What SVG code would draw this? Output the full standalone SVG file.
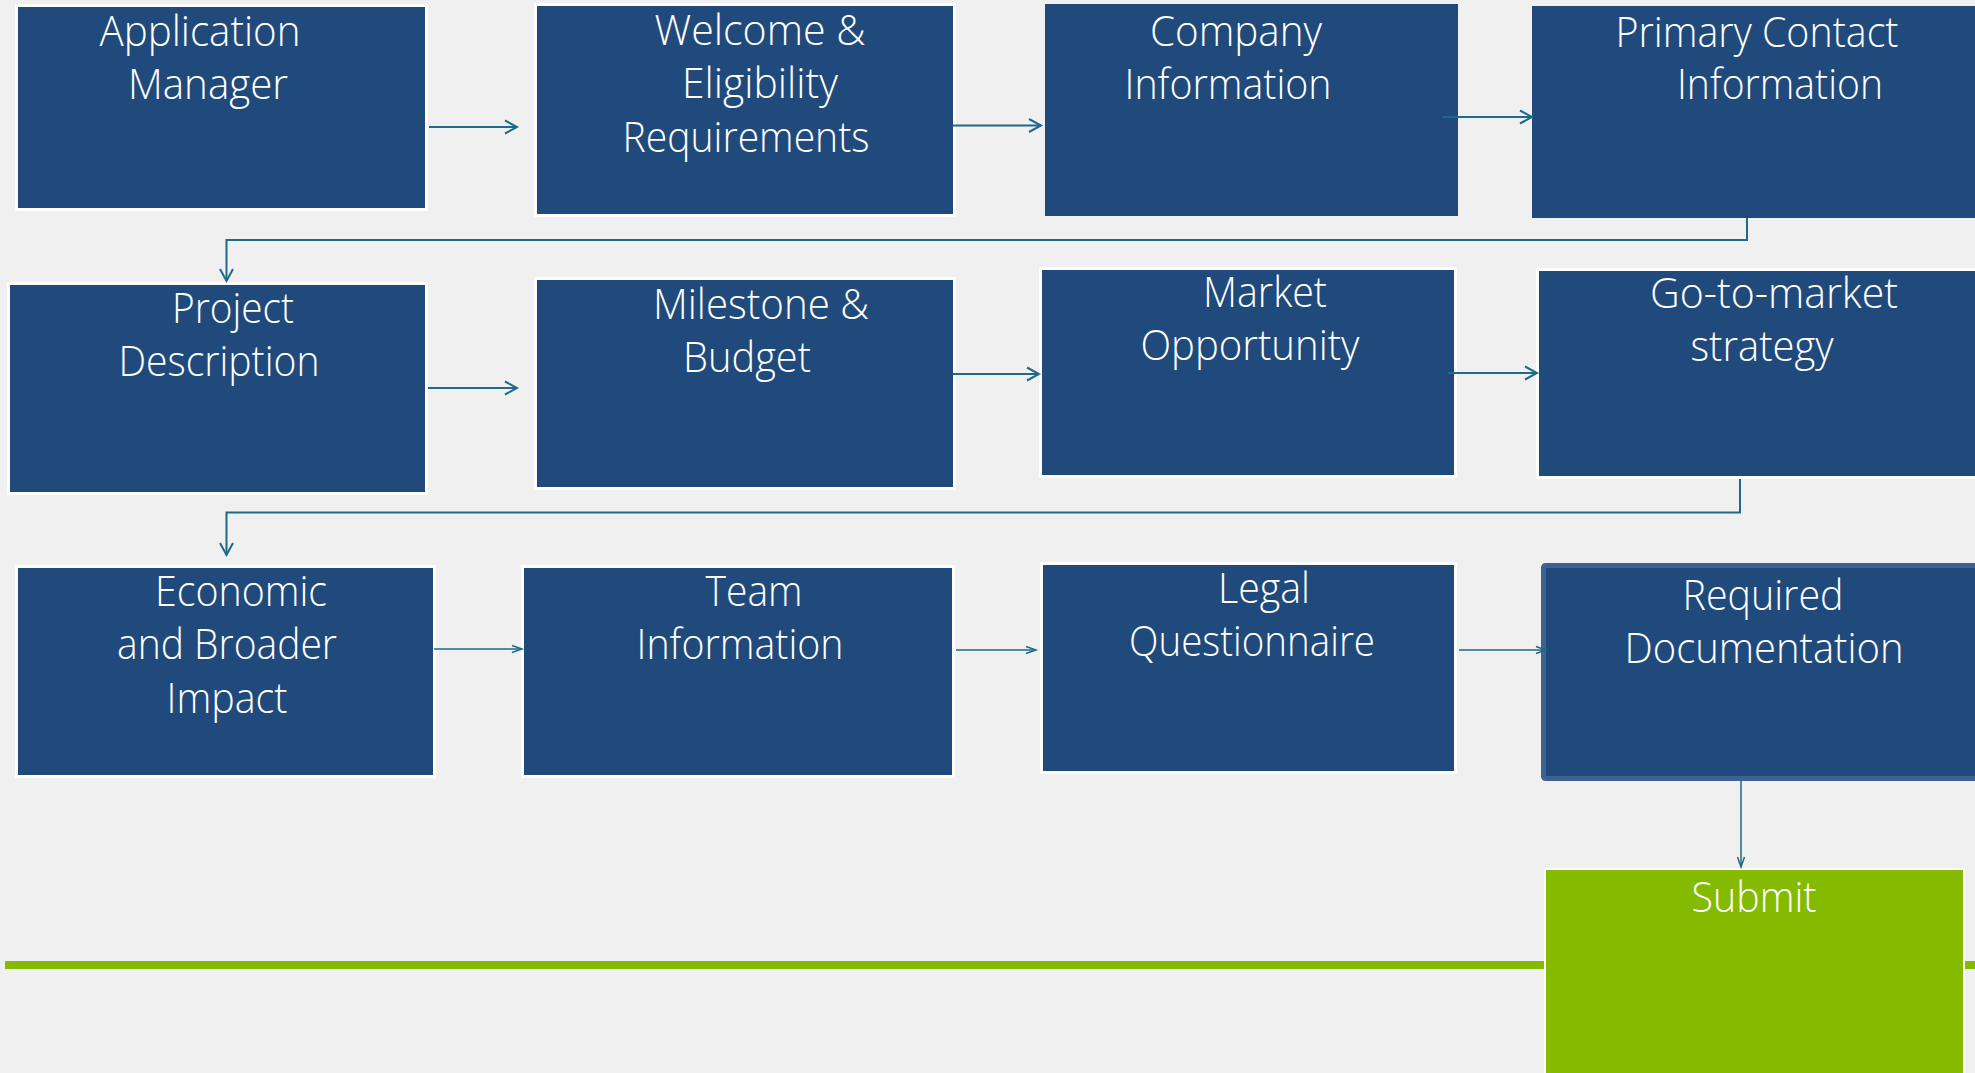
<svg xmlns="http://www.w3.org/2000/svg" width="1975" height="1073" viewBox="0 0 1975 1073">
<defs>
<style>
.bg{fill:#f0f0f0}
.box{fill:#214a7c;stroke:#ffffff;stroke-width:3}
.plain{fill:#214a7c}
.req{fill:#214a7c;stroke:#3d6291;stroke-width:5}
.sub{fill:#84bb00;stroke:#ffffff;stroke-width:2}
.t{font-family:"Open Sans","Segoe UI",Lato,"Liberation Sans",sans-serif;font-weight:300;font-size:42px;fill:#ffffff;text-anchor:middle}
.c{fill:none;stroke:#1f6a8a;stroke-width:2}
.cs{fill:none;stroke:#1f6a8a;stroke-width:1.5}
</style>
<marker id="ah" markerUnits="userSpaceOnUse" markerWidth="14" markerHeight="15" refX="12" refY="6.5" orient="auto" overflow="visible">
<path d="M0,0 L12,6.5 L0,13" fill="none" stroke="#1f6a8a" stroke-width="2"/>
</marker>
<marker id="ahs" markerUnits="userSpaceOnUse" markerWidth="12" markerHeight="9" refX="10" refY="3.5" orient="auto" overflow="visible">
<path d="M0,0 L10,3.5 L0,7" fill="none" stroke="#1f6a8a" stroke-width="1.5"/>
</marker>
</defs>
<rect class="bg" x="0" y="0" width="1975" height="1073"/>
<rect x="5" y="961" width="1970" height="8" fill="#84bb00"/>

<g id="n-app">
<rect class="box" x="16.5" y="5.5" width="410" height="204"/>
<text class="t" x="200" y="46" textLength="201" lengthAdjust="spacingAndGlyphs">Application</text>
<text class="t" x="208" y="99" textLength="160" lengthAdjust="spacingAndGlyphs">Manager</text>
</g>
<g id="n-welcome">
<rect class="box" x="535.5" y="4.5" width="419" height="211"/>
<text class="t" x="760" y="45" textLength="211" lengthAdjust="spacingAndGlyphs">Welcome &amp;</text>
<text class="t" x="760" y="98" textLength="156" lengthAdjust="spacingAndGlyphs">Eligibility</text>
<text class="t" x="746" y="152" textLength="247" lengthAdjust="spacingAndGlyphs">Requirements</text>
</g>
<g id="n-company">
<rect class="plain" x="1045" y="4" width="413" height="212"/>
<text class="t" x="1236" y="46" textLength="172" lengthAdjust="spacingAndGlyphs">Company</text>
<text class="t" x="1228" y="99" textLength="207" lengthAdjust="spacingAndGlyphs">Information</text>
</g>
<g id="n-primary">
<rect class="plain" x="1532" y="6" width="450" height="212"/>
<text class="t" x="1757" y="47" textLength="283" lengthAdjust="spacingAndGlyphs">Primary Contact</text>
<text class="t" x="1780" y="99" textLength="206" lengthAdjust="spacingAndGlyphs">Information</text>
</g>
<g id="n-project">
<rect class="box" x="8.5" y="283.5" width="418" height="210"/>
<text class="t" x="233" y="323" textLength="122" lengthAdjust="spacingAndGlyphs">Project</text>
<text class="t" x="219" y="376" textLength="201" lengthAdjust="spacingAndGlyphs">Description</text>
</g>
<g id="n-milestone">
<rect class="box" x="535.5" y="278.5" width="419" height="210"/>
<text class="t" x="761" y="319" textLength="216" lengthAdjust="spacingAndGlyphs">Milestone &amp;</text>
<text class="t" x="747" y="372" textLength="128" lengthAdjust="spacingAndGlyphs">Budget</text>
</g>
<g id="n-market">
<rect class="box" x="1040.5" y="268.5" width="415" height="208"/>
<text class="t" x="1265" y="307" textLength="124" lengthAdjust="spacingAndGlyphs">Market</text>
<text class="t" x="1250" y="360" textLength="219" lengthAdjust="spacingAndGlyphs">Opportunity</text>
</g>
<g id="n-gtm">
<rect class="box" x="1537.5" y="269.5" width="440" height="208"/>
<text class="t" x="1774" y="308" textLength="248" lengthAdjust="spacingAndGlyphs">Go-to-market</text>
<text class="t" x="1762" y="361" textLength="143" lengthAdjust="spacingAndGlyphs">strategy</text>
</g>
<g id="n-economic">
<rect class="box" x="16.5" y="566.5" width="418" height="210"/>
<text class="t" x="241" y="606" textLength="172" lengthAdjust="spacingAndGlyphs">Economic</text>
<text class="t" x="227" y="659" textLength="220" lengthAdjust="spacingAndGlyphs">and Broader</text>
<text class="t" x="227" y="713" textLength="121" lengthAdjust="spacingAndGlyphs">Impact</text>
</g>
<g id="n-team">
<rect class="box" x="522.5" y="566.5" width="431" height="210"/>
<text class="t" x="754" y="606" textLength="97" lengthAdjust="spacingAndGlyphs">Team</text>
<text class="t" x="740" y="659" textLength="207" lengthAdjust="spacingAndGlyphs">Information</text>
</g>
<g id="n-legal">
<rect class="box" x="1041.5" y="563.5" width="414" height="209"/>
<text class="t" x="1264" y="603" textLength="92" lengthAdjust="spacingAndGlyphs">Legal</text>
<text class="t" x="1252" y="656" textLength="246" lengthAdjust="spacingAndGlyphs">Questionnaire</text>
</g>
<g id="n-required">
<rect class="req" x="1543.5" y="565.5" width="440" height="213" rx="2"/>
<text class="t" x="1763" y="610" textLength="161" lengthAdjust="spacingAndGlyphs">Required</text>
<text class="t" x="1764" y="663" textLength="279" lengthAdjust="spacingAndGlyphs">Documentation</text>
</g>
<g id="n-submit">
<rect class="sub" x="1545" y="869" width="419" height="215"/>
<text class="t" x="1754" y="912" textLength="125" lengthAdjust="spacingAndGlyphs">Submit</text>
</g>

<g id="connectors">
<path class="c" d="M429,127 H517" marker-end="url(#ah)"/>
<path class="c" d="M953,125.5 H1041" marker-end="url(#ah)"/>
<path class="c" d="M1443,117 H1532" marker-end="url(#ah)"/>
<path class="c" d="M1747,218 V240 H226.5 V281" marker-end="url(#ah)"/>
<path class="c" d="M428,388 H517" marker-end="url(#ah)"/>
<path class="c" d="M953,374 H1039" marker-end="url(#ah)"/>
<path class="c" d="M1448,373 H1537" marker-end="url(#ah)"/>
<path class="c" d="M1740,479 V512.5 H226.5 V555" marker-end="url(#ah)"/>
<path class="cs" d="M434,649 H522" marker-end="url(#ahs)"/>
<path class="cs" d="M956,650 H1036" marker-end="url(#ahs)"/>
<path class="cs" d="M1459,650 H1546" marker-end="url(#ahs)"/>
<path class="cs" d="M1741,781 V867" marker-end="url(#ahs)"/>
</g>
</svg>
